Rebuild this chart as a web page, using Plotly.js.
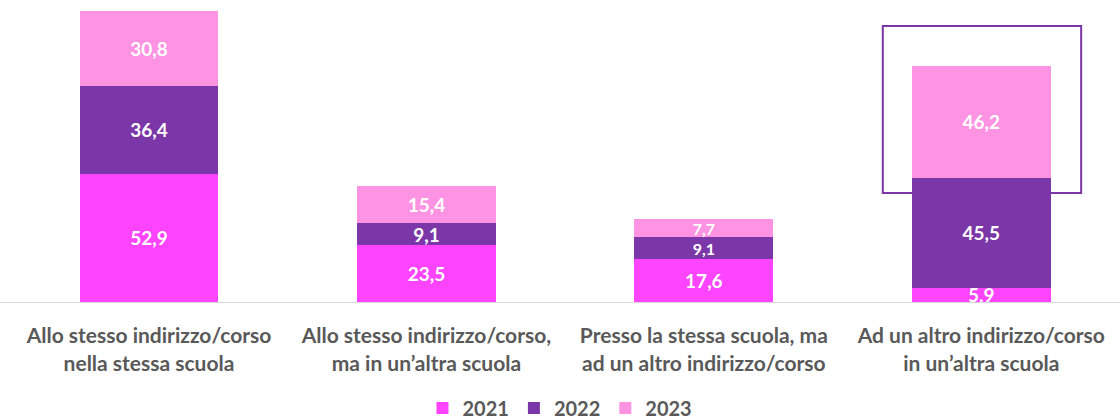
<!DOCTYPE html>
<html>
<head>
<meta charset="utf-8">
<script src="https://cdn.plot.ly/plotly-3.0.1.min.js"></script>
<style>html,body{margin:0;padding:0;background:#fff;}#chart{width:1120px;height:420px;}</style>
</head>
<body>
<div id="chart"></div>
<script>
const categories = [
  "Allo stesso indirizzo/corso<br>nella stessa scuola",
  "Allo stesso indirizzo/corso,<br>ma in un\u2019altra scuola",
  "Presso la stessa scuola, ma<br>ad un altro indirizzo/corso",
  "Ad un altro indirizzo/corso<br>in un\u2019altra scuola"
];
const seriesNames = ["2021", "2022", "2023"];
const values2021 = [52.9, 23.5, 17.6, 5.9];
const values2022 = [36.4, 9.1, 9.1, 45.5];
const values2023 = [30.8, 15.4, 7.7, 46.2];
const colors = ["#FF44FF", "#7B37A7", "#FF93E3"];

const fmt = v => v.toFixed(1).replace('.', ',');
const allValues = [values2021, values2022, values2023];
const font = "Lato, 'Open Sans', sans-serif";

// slightly smaller labels where two thin segments sit on top of each other
const labelSizes = [
  [19, 19, 19, 19],
  [19, 19, 16, 19],
  [19, 19, 16, 19]
];

const traces = allValues.map((vals, i) => ({
  type: 'bar',
  name: seriesNames[i],
  x: categories,
  y: vals,
  marker: {color: colors[i]},
  width: 0.5,
  text: vals.map(fmt),
  textposition: 'inside',
  insidetextanchor: 'middle',
  constraintext: 'none',
  textfont: {family: font, size: labelSizes[i], color: '#ffffff', weight: 'bold'},
  cliponaxis: false,
  hoverinfo: 'skip'
}));

const layout = {
  width: 1120, height: 420,
  margin: {l: 0, r: 0, t: 5, b: 118, autoexpand: false},
  barmode: 'stack',
  paper_bgcolor: '#ffffff',
  plot_bgcolor: '#ffffff',
  showlegend: true,
  legend: {
    orientation: 'h', x: 0.5, xanchor: 'center', y: -0.357, yanchor: 'middle',
    font: {family: font, size: 20, color: '#595959', weight: 'bold'},
    itemwidth: 30, traceorder: 'normal'
  },
  xaxis: {
    type: 'category',
    range: [-0.537, 3.5],
    showgrid: false, zeroline: false,
    showline: true, linecolor: '#d9d9d9', linewidth: 1,
    ticks: '', ticklen: 0,
    ticklabelstandoff: 15,
    automargin: false,
    tickfont: {family: font, size: 21, color: '#595959', weight: 'bold'},
    fixedrange: true
  },
  yaxis: {
    range: [0, 122.7],
    visible: false,
    showgrid: false, zeroline: false,
    fixedrange: true
  },
  shapes: [{
    type: 'rect', xref: 'x', yref: 'y',
    x0: 2.645, x1: 3.36, y0: 45, y1: 114,
    line: {color: '#7B37A7', width: 2},
    fillcolor: 'rgba(0,0,0,0)',
    layer: 'above'
  }],
  bargap: 0.5
};

Plotly.newPlot('chart', traces, layout, {displayModeBar: false, staticPlot: true});
</script>
</body>
</html>
